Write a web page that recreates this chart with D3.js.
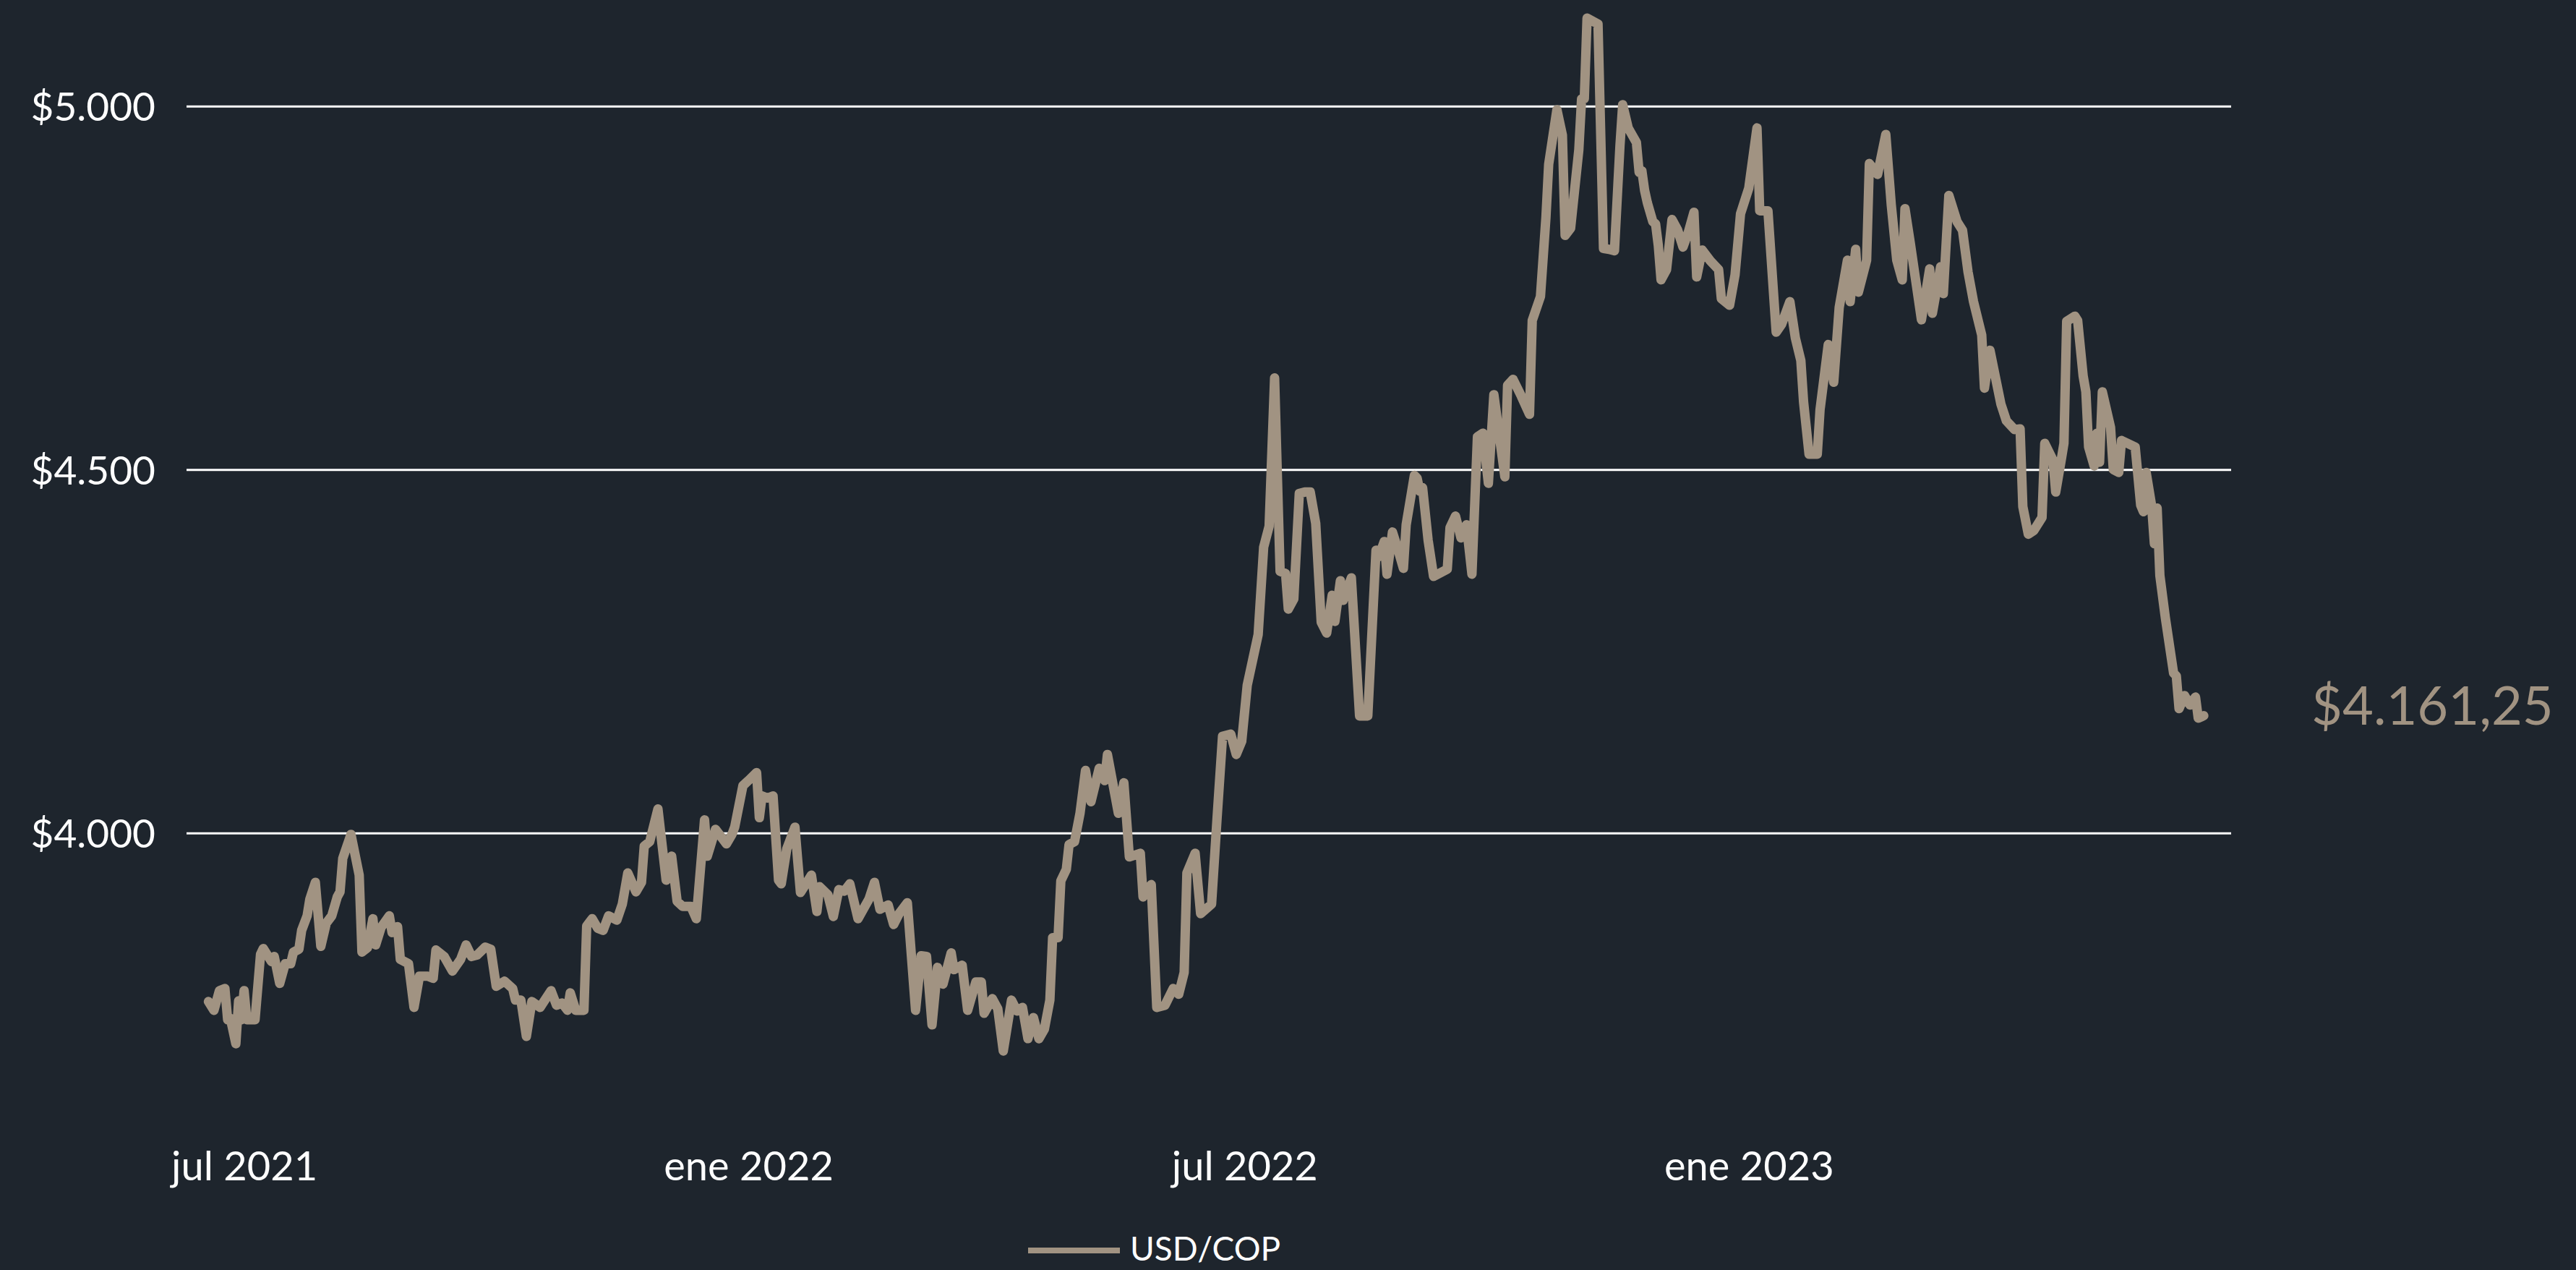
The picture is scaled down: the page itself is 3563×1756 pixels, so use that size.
<!DOCTYPE html>
<html><head><meta charset="utf-8">
<script src="https://cdn.jsdelivr.net/npm/d3@7"></script>
<style>html,body{margin:0;padding:0;background:#1E252D;} svg{display:block}</style>
</head><body><svg id="c" width="3563" height="1756"></svg>
<script>
const dates = [
"2021-06-18","2021-06-20","2021-06-22","2021-06-24","2021-06-25","2021-06-26","2021-06-28","2021-06-29","2021-06-30","2021-07-01",
"2021-07-02","2021-07-05","2021-07-07","2021-07-08","2021-07-11","2021-07-12","2021-07-14","2021-07-16","2021-07-18","2021-07-19",
"2021-07-21","2021-07-22","2021-07-24","2021-07-25","2021-07-27","2021-07-29","2021-07-31","2021-08-02","2021-08-04","2021-08-05",
"2021-08-06","2021-08-09","2021-08-12","2021-08-13","2021-08-15","2021-08-17","2021-08-18","2021-08-20","2021-08-23","2021-08-24",
"2021-08-26","2021-08-27","2021-08-30","2021-09-01","2021-09-03","2021-09-06","2021-09-08","2021-09-09","2021-09-12","2021-09-15",
"2021-09-18","2021-09-20","2021-09-22","2021-09-24","2021-09-27","2021-09-29","2021-10-01","2021-10-04","2021-10-07","2021-10-08",
"2021-10-10","2021-10-12","2021-10-14","2021-10-17","2021-10-21","2021-10-23","2021-10-25","2021-10-27","2021-10-28","2021-10-30",
"2021-11-02","2021-11-03","2021-11-05","2021-11-07","2021-11-09","2021-11-11","2021-11-14","2021-11-16","2021-11-18","2021-11-21",
"2021-11-23","2021-11-24","2021-11-26","2021-11-29","2021-12-02","2021-12-04","2021-12-06","2021-12-08","2021-12-11","2021-12-13",
"2021-12-16","2021-12-17","2021-12-20","2021-12-24","2021-12-26","2021-12-27","2021-12-30","2022-01-01","2022-01-04","2022-01-05",
"2022-01-06","2022-01-08","2022-01-10","2022-01-12","2022-01-13","2022-01-15","2022-01-18","2022-01-19","2022-01-20","2022-01-24",
"2022-01-26","2022-01-27","2022-01-30","2022-02-01","2022-02-03","2022-02-05","2022-02-07","2022-02-10","2022-02-14","2022-02-16",
"2022-02-18","2022-02-21","2022-02-23","2022-02-25","2022-02-28","2022-03-03","2022-03-05","2022-03-07","2022-03-09","2022-03-11",
"2022-03-13","2022-03-16","2022-03-17","2022-03-20","2022-03-22","2022-03-25","2022-03-27","2022-03-28","2022-03-31","2022-04-02",
"2022-04-04","2022-04-07","2022-04-09","2022-04-11","2022-04-13","2022-04-15","2022-04-17","2022-04-19","2022-04-21","2022-04-22",
"2022-04-24","2022-04-25","2022-04-27","2022-04-28","2022-04-30","2022-05-02","2022-05-04","2022-05-06","2022-05-09","2022-05-11",
"2022-05-12","2022-05-16","2022-05-18","2022-05-20","2022-05-24","2022-05-25","2022-05-28","2022-05-30","2022-06-02","2022-06-05",
"2022-06-07","2022-06-09","2022-06-10","2022-06-13","2022-06-15","2022-06-19","2022-06-21","2022-06-23","2022-06-26","2022-06-28",
"2022-06-30","2022-07-02","2022-07-06","2022-07-08","2022-07-10","2022-07-12","2022-07-13","2022-07-14","2022-07-16","2022-07-17",
"2022-07-19","2022-07-21","2022-07-23","2022-07-25","2022-07-27","2022-07-29","2022-07-31","2022-08-02","2022-08-03","2022-08-05",
"2022-08-06","2022-08-09","2022-08-12","2022-08-15","2022-08-18","2022-08-19","2022-08-21","2022-08-22","2022-08-24","2022-08-26",
"2022-08-28","2022-08-29","2022-09-01","2022-09-02","2022-09-03","2022-09-04","2022-09-06","2022-09-08","2022-09-13","2022-09-14",
"2022-09-16","2022-09-18","2022-09-20","2022-09-22","2022-09-24","2022-09-26","2022-09-28","2022-09-30","2022-10-04","2022-10-05",
"2022-10-07","2022-10-10","2022-10-13","2022-10-14","2022-10-17","2022-10-19","2022-10-20","2022-10-23","2022-10-25","2022-10-26",
"2022-10-28","2022-10-31","2022-11-01","2022-11-02","2022-11-03","2022-11-07","2022-11-09","2022-11-11","2022-11-13","2022-11-15",
"2022-11-16","2022-11-18","2022-11-21","2022-11-22","2022-11-23","2022-11-24","2022-11-25","2022-11-27","2022-11-28","2022-11-29",
"2022-11-30","2022-12-02","2022-12-04","2022-12-06","2022-12-08","2022-12-10","2022-12-12","2022-12-13","2022-12-15","2022-12-18",
"2022-12-21","2022-12-22","2022-12-25","2022-12-27","2022-12-29","2023-01-01","2023-01-04","2023-01-05","2023-01-08","2023-01-11",
"2023-01-13","2023-01-16","2023-01-18","2023-01-20","2023-01-21","2023-01-23","2023-01-26","2023-01-27","2023-01-30","2023-02-01",
"2023-02-03","2023-02-06","2023-02-07","2023-02-09","2023-02-10","2023-02-13","2023-02-14","2023-02-17","2023-02-20","2023-02-22",
"2023-02-24","2023-02-26","2023-02-27","2023-03-01","2023-03-05","2023-03-08","2023-03-09","2023-03-12","2023-03-13","2023-03-15",
"2023-03-18","2023-03-20","2023-03-22","2023-03-24","2023-03-27","2023-03-28","2023-03-30","2023-04-03","2023-04-05","2023-04-08",
"2023-04-10","2023-04-11","2023-04-13","2023-04-15","2023-04-18","2023-04-19","2023-04-22","2023-04-23","2023-04-25","2023-04-26",
"2023-04-27","2023-04-30","2023-05-01","2023-05-03","2023-05-04","2023-05-05","2023-05-07","2023-05-08","2023-05-09","2023-05-10",
"2023-05-13","2023-05-14","2023-05-16","2023-05-17","2023-05-22","2023-05-24","2023-05-25","2023-05-26","2023-05-28","2023-05-29",
"2023-05-30","2023-05-31","2023-06-02","2023-06-05","2023-06-06","2023-06-07","2023-06-09","2023-06-11","2023-06-13","2023-06-14","2023-06-16"
];
const values = [
3768,3756,3783,3786,3743,3745,3710,3769,3743,3783,
3743,3743,3833,3841,3823,3830,3793,3820,3820,3836,
3840,3866,3886,3909,3932,3844,3876,3886,3912,3919,
3965,3998,3942,3836,3842,3882,3846,3870,3886,3863,
3871,3826,3820,3760,3803,3803,3800,3839,3830,3810,
3826,3846,3830,3832,3843,3840,3789,3796,3786,3770,
3770,3720,3768,3760,3783,3763,3766,3756,3780,3756,
3756,3872,3882,3869,3866,3886,3880,3902,3945,3919,
3932,3982,3988,4033,3935,3968,3906,3899,3899,3882,
4018,3968,4005,3985,3998,4008,4065,4072,4083,4021,
4051,4048,4051,3935,3930,3978,4008,3962,3918,3942,
3892,3926,3915,3885,3922,3920,3930,3882,3909,3932,
3895,3901,3874,3889,3904,3756,3831,3830,3736,3815,
3792,3835,3812,3818,3756,3795,3795,3752,3772,3758,
3700,3770,3755,3760,3717,3746,3717,3730,3770,3856,
3856,3934,3950,3984,3988,4027,4086,4043,4089,4072,
4108,4027,4069,3967,3972,3912,3929,3760,3763,3786,
3778,3808,3945,3972,3889,3902,4020,4133,4136,4108,
4126,4203,4273,4393,4422,4626,4492,4360,4357,4308,
4322,4467,4469,4469,4426,4290,4275,4327,4291,4347,
4320,4351,4161,4161,4389,4380,4401,4356,4414,4390,
4364,4424,4492,4488,4470,4475,4403,4353,4363,4420,
4436,4406,4424,4356,4545,4550,4481,4603,4490,4616,
4624,4601,4576,4705,4738,4847,4920,4995,4960,4822,
4832,4940,5010,5010,5121,5113,4804,4803,4801,4945,
5002,4970,4950,4909,4911,4884,4867,4841,4838,4808,
4761,4775,4844,4830,4806,4827,4854,4765,4802,4787,
4775,4735,4726,4768,4852,4887,4970,4856,4856,4689,
4700,4731,4681,4650,4593,4521,4521,4582,4672,4620,
4723,4788,4731,4803,4744,4788,4921,4906,4961,4864,
4788,4761,4859,4810,4706,4776,4715,4779,4742,4877,
4841,4829,4772,4731,4685,4612,4664,4590,4567,4555,
4556,4449,4411,4416,4434,4536,4513,4469,4513,4536,
4704,4711,4705,4629,4607,4531,4505,4550,4510,4607,
4558,4500,4496,4540,4531,4451,4442,4496,4450,4398,
4447,4354,4296,4220,4216,4171,4189,4176,4187,4158,4161.25
];
const yTicks = [4000, 4500, 5000];
const xTicks = ["2021-07-01","2022-01-01","2022-07-01","2023-01-01"];
const seriesName = "USD/COP";
const xDomain = ["2021-06-10","2023-06-26"];
const yDomain = [4000, 5000];

const W = 3563, H = 1756;
const BG = "#1E252D", LINE = "#A19382", FONT = "Lato, 'Open Sans', sans-serif";
const svg = d3.select("#c");
svg.append("rect").attr("width", W).attr("height", H).attr("fill", BG);

const parse = d3.utcParse("%Y-%m-%d");
const data = dates.map((d, i) => ({date: parse(d), value: values[i]}));

const left = 258, right = 3086;
const x = d3.scaleUtc().domain(xDomain.map(parse)).range([left, right]);
const y = d3.scaleLinear().domain(yDomain).range([1151.7, 146.7]);

const esNum = d3.formatLocale({decimal: ",", thousands: ".", grouping: [3], currency: ["$", ""]});
const esTime = d3.timeFormatLocale({
  dateTime: "%A, %e de %B de %Y, %X", date: "%d/%m/%Y", time: "%H:%M:%S", periods: ["AM", "PM"],
  days: ["domingo","lunes","martes","miércoles","jueves","viernes","sábado"],
  shortDays: ["dom","lun","mar","mié","jue","vie","sáb"],
  months: ["enero","febrero","marzo","abril","mayo","junio","julio","agosto","septiembre","octubre","noviembre","diciembre"],
  shortMonths: ["ene","feb","mar","abr","may","jun","jul","ago","sep","oct","nov","dic"]
});

// Y axis with gridlines
const gy = svg.append("g").attr("transform", `translate(${left},0)`)
  .call(d3.axisLeft(y).tickValues(yTicks).tickSize(-(right - left)).tickPadding(43)
    .tickFormat(esNum.format("$,.0f")));
gy.select(".domain").remove();
gy.selectAll(".tick line").attr("stroke", "#FFFFFF").attr("stroke-width", 3);
gy.selectAll(".tick text").attr("fill", "#FFFFFF").attr("font-family", FONT)
  .attr("font-size", 55).attr("dy", "0.36em");

// X axis labels
const gx = svg.append("g").attr("transform", "translate(0,1632)")
  .call(d3.axisBottom(x).tickValues(xTicks.map(parse)).tickSize(0).tickPadding(0)
    .tickFormat(esTime.utcFormat("%b %Y")));
gx.select(".domain").remove();
gx.selectAll(".tick text").attr("fill", "#FFFFFF").attr("font-family", FONT)
  .attr("font-size", 56).attr("y", 0).attr("dy", 0);

// Line
const line = d3.line().x(d => x(d.date)).y(d => y(d.value));
svg.append("path").datum(data).attr("d", line).attr("fill", "none")
  .attr("stroke", LINE).attr("stroke-width", 13)
  .attr("stroke-linejoin", "round").attr("stroke-linecap", "round");

// End label
const last = data[data.length - 1];
svg.append("text").attr("x", x(last.date) + 149).attr("y", y(last.value) + 12)
  .attr("fill", LINE).attr("font-family", FONT).attr("font-size", 74)
  .text(esNum.format("$,.2f")(last.value));

// Legend
const lg = svg.append("g");
lg.append("line").attr("x1", 1422).attr("x2", 1549).attr("y1", 1729).attr("y2", 1729)
  .attr("stroke", LINE).attr("stroke-width", 8);
lg.append("text").attr("x", 1563).attr("y", 1743).attr("fill", "#FFFFFF")
  .attr("font-family", FONT).attr("font-size", 46).text(seriesName);
</script>
</body></html>
